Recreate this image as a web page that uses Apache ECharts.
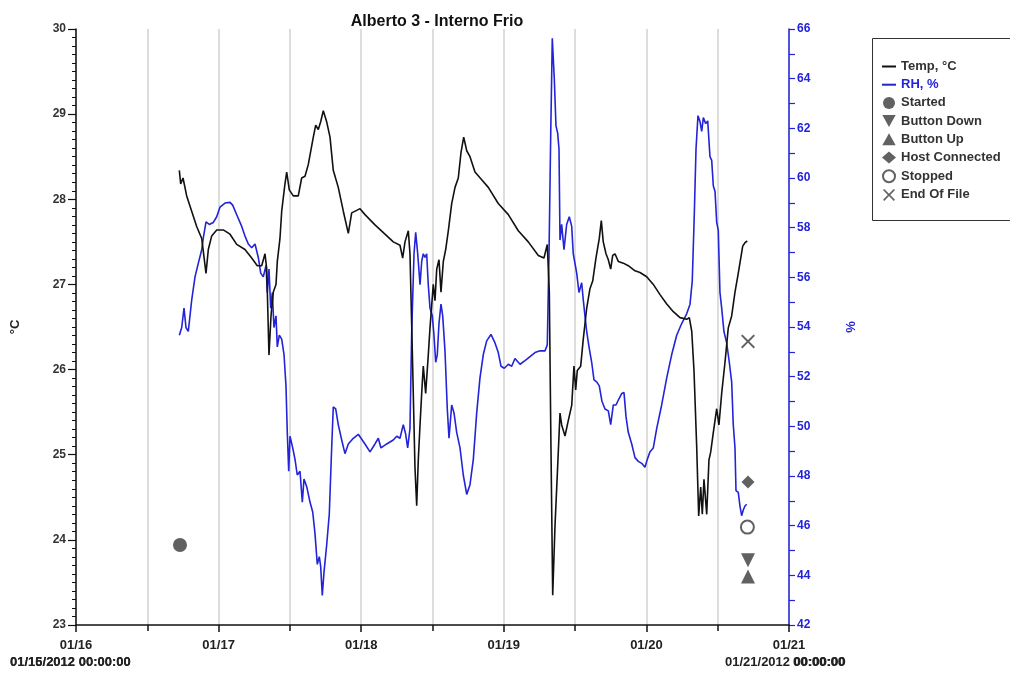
<!DOCTYPE html>
<html>
<head>
<meta charset="utf-8">
<title>Alberto 3 - Interno Frio</title>
<script src="https://cdn.jsdelivr.net/npm/echarts@6/dist/echarts.min.js"></script>
<style>
  html, body { margin: 0; padding: 0; background: #fff; }
  #chart { width: 1010px; height: 675px; }
</style>
</head>
<body>
<div id="chart"></div>
<script>
// Logger readings, hours counted from 01/16/2012 00:00
const tempHours = [17.39, 17.62, 18.01, 18.63, 19.47, 20.31, 21.16, 21.88, 22.27, 22.84, 23.68, 24.79, 25.92, 27.05, 28.44, 29.57, 30.51, 31.25, 31.81, 32.10, 32.48, 32.82, 33.21, 33.66, 33.88, 34.33, 34.62, 35.17, 35.46, 35.90, 36.57, 37.41, 37.98, 38.54, 39.10, 39.94, 40.34, 40.78, 41.18, 41.62, 42.19, 42.75, 43.30, 44.14, 44.99, 45.83, 46.40, 47.24, 47.80, 48.64, 50.32, 52.00, 53.40, 54.53, 54.98, 55.37, 55.93, 56.21, 56.60, 57.05, 57.34, 57.61, 57.90, 58.18, 58.45, 58.85, 59.29, 59.58, 60.13, 60.42, 60.71, 61.09, 61.43, 61.82, 62.22, 62.66, 63.23, 63.79, 64.34, 64.80, 65.25, 65.76, 66.31, 67.15, 68.28, 69.39, 71.07, 72.76, 74.44, 76.12, 77.81, 78.76, 79.32, 79.66, 79.94, 80.23, 80.62, 81.00, 81.46, 81.74, 82.30, 82.85, 83.43, 83.81, 84.10, 84.37, 84.94, 85.38, 85.95, 86.50, 86.96, 87.51, 88.07, 88.41, 88.74, 89.20, 89.59, 89.99, 90.33, 90.71, 91.27, 92.11, 92.95, 94.08, 94.92, 96.05, 97.16, 98.29, 99.42, 100.53, 101.66, 102.78, 103.22, 103.63, 104.01, 104.47, 104.80, 105.14, 105.41, 105.69, 106.15, 106.53, 106.82, 107.26, 107.83, 108.21, 108.67, 109.22, 109.78, 110.35, 110.91, 111.46, 112.21, 112.59, 112.98];
const tempValues = [28.34, 28.18, 28.25, 28.04, 27.86, 27.68, 27.54, 27.13, 27.41, 27.57, 27.64, 27.64, 27.59, 27.47, 27.41, 27.31, 27.22, 27.22, 27.36, 27.18, 26.17, 26.63, 26.91, 27.00, 27.27, 27.54, 27.86, 28.18, 28.32, 28.11, 28.04, 28.04, 28.25, 28.27, 28.41, 28.73, 28.87, 28.82, 28.91, 29.04, 28.91, 28.73, 28.34, 28.14, 27.86, 27.60, 27.84, 27.87, 27.89, 27.82, 27.70, 27.59, 27.50, 27.46, 27.31, 27.50, 27.63, 27.36, 26.22, 24.85, 24.40, 24.94, 25.35, 25.72, 26.04, 25.72, 26.17, 26.49, 27.00, 26.81, 27.18, 27.29, 26.91, 27.27, 27.41, 27.63, 27.95, 28.14, 28.25, 28.55, 28.73, 28.57, 28.50, 28.32, 28.23, 28.14, 27.95, 27.82, 27.63, 27.50, 27.34, 27.31, 27.47, 26.91, 25.08, 23.35, 24.17, 24.76, 25.49, 25.35, 25.22, 25.40, 25.58, 26.04, 25.76, 25.99, 26.04, 26.36, 26.72, 26.95, 27.04, 27.31, 27.54, 27.75, 27.50, 27.36, 27.29, 27.18, 27.34, 27.36, 27.27, 27.25, 27.22, 27.16, 27.14, 27.09, 27.00, 26.88, 26.77, 26.68, 26.61, 26.59, 26.61, 26.45, 25.99, 25.08, 24.28, 24.62, 24.30, 24.71, 24.30, 24.94, 25.03, 25.26, 25.54, 25.35, 25.72, 26.08, 26.49, 26.63, 26.91, 27.13, 27.45, 27.49, 27.51];

const rhHours = [17.39, 17.79, 18.18, 18.51, 18.90, 19.47, 20.03, 20.58, 21.16, 21.42, 21.88, 22.43, 23.11, 23.68, 24.24, 25.08, 25.92, 26.37, 27.05, 27.89, 28.44, 29.00, 29.57, 30.13, 30.68, 31.09, 31.52, 31.98, 32.20, 32.48, 32.77, 33.04, 33.32, 33.66, 33.88, 34.22, 34.62, 35.01, 35.34, 35.56, 35.80, 36.02, 36.47, 36.86, 37.24, 37.70, 38.09, 38.37, 38.83, 39.38, 39.84, 40.22, 40.61, 40.95, 41.18, 41.45, 41.74, 42.19, 42.63, 43.03, 43.30, 43.71, 44.14, 44.72, 45.27, 45.83, 46.67, 47.51, 47.80, 48.64, 49.48, 50.32, 50.88, 51.33, 52.29, 53.40, 53.97, 54.53, 55.08, 55.49, 55.82, 56.21, 56.50, 56.89, 57.17, 57.51, 57.90, 58.18, 58.45, 58.74, 59.02, 59.29, 59.58, 59.97, 60.25, 60.54, 60.81, 61.09, 61.43, 61.72, 62.10, 62.49, 62.78, 63.23, 63.62, 64.07, 64.63, 65.18, 65.76, 66.31, 66.87, 67.44, 67.99, 68.55, 69.12, 69.84, 70.52, 71.07, 71.53, 72.08, 72.76, 73.33, 73.88, 74.73, 75.57, 76.41, 77.25, 78.09, 78.93, 79.32, 79.61, 79.89, 80.16, 80.50, 80.78, 81.07, 81.29, 81.46, 81.74, 82.13, 82.58, 83.02, 83.43, 83.69, 84.27, 84.65, 85.11, 85.38, 85.66, 85.95, 86.34, 86.79, 87.18, 87.63, 88.07, 88.52, 89.03, 89.59, 89.99, 90.43, 90.88, 91.34, 91.84, 92.23, 92.57, 92.95, 93.53, 94.08, 94.64, 95.21, 95.76, 96.15, 96.61, 97.16, 97.73, 98.57, 99.42, 100.26, 101.10, 101.94, 102.78, 103.34, 103.72, 104.06, 104.35, 104.68, 105.02, 105.31, 105.58, 105.98, 106.32, 106.70, 106.99, 107.26, 107.55, 107.83, 108.10, 108.38, 108.67, 109.05, 109.51, 109.95, 110.35, 110.62, 110.91, 111.08, 111.46, 111.75, 112.03, 112.30, 112.59, 112.88];
const rhValues = [53.67, 53.98, 54.76, 53.98, 53.82, 55.08, 56.02, 56.56, 57.11, 57.58, 58.23, 58.13, 58.21, 58.44, 58.83, 58.99, 59.02, 58.91, 58.52, 58.05, 57.66, 57.34, 57.19, 57.34, 56.80, 56.17, 56.02, 56.48, 55.39, 56.33, 54.76, 55.39, 53.98, 54.45, 53.20, 53.67, 53.51, 52.89, 51.63, 49.76, 48.19, 49.60, 49.13, 48.67, 48.04, 48.19, 46.95, 47.88, 47.57, 46.95, 46.55, 45.69, 44.44, 44.75, 44.36, 43.19, 44.13, 45.22, 46.47, 49.13, 50.78, 50.70, 50.07, 49.45, 48.90, 49.29, 49.52, 49.68, 49.60, 49.29, 48.97, 49.29, 49.52, 49.13, 49.29, 49.45, 49.60, 49.52, 50.07, 49.68, 49.13, 49.91, 53.82, 56.95, 57.81, 56.95, 55.70, 56.64, 56.95, 56.80, 56.95, 55.70, 54.76, 54.45, 53.67, 52.58, 52.89, 54.14, 54.92, 54.45, 53.04, 50.70, 49.52, 50.86, 50.54, 49.76, 49.13, 48.04, 47.26, 47.65, 48.67, 50.54, 51.95, 52.89, 53.44, 53.70, 53.36, 52.97, 52.42, 52.34, 52.50, 52.42, 52.73, 52.50, 52.65, 52.81, 52.97, 53.04, 53.04, 53.28, 56.95, 61.64, 65.63, 63.99, 62.11, 61.80, 61.17, 57.50, 58.13, 57.11, 58.13, 58.44, 58.05, 56.95, 56.17, 55.39, 55.78, 55.08, 54.45, 53.82, 53.20, 52.58, 51.87, 51.79, 51.63, 51.01, 50.70, 50.62, 50.07, 50.86, 50.86, 51.09, 51.32, 51.36, 50.39, 49.76, 49.29, 48.74, 48.59, 48.51, 48.35, 48.67, 48.98, 49.13, 49.91, 50.86, 51.95, 52.89, 53.67, 54.14, 54.53, 54.92, 55.86, 58.52, 61.17, 62.51, 62.27, 61.88, 62.43, 62.19, 62.30, 60.86, 60.71, 59.69, 59.46, 58.21, 57.89, 55.39, 54.76, 53.82, 53.36, 52.58, 51.79, 50.07, 49.13, 47.41, 47.34, 46.79, 46.40, 46.63, 46.79, 46.86];

// Logger events (hour, plotted on the °C scale)
const eventNames  = ['Started', 'Button Down', 'Button Up', 'Host Connected', 'Stopped', 'End Of File'];
const eventHours  = [17.5, 113.1, 113.1, 113.1, 113.0, 113.1];
const eventValues = [23.94, 23.76, 23.57, 24.68, 24.15, 26.33];

const dayLabels = ['01/16', '01/17', '01/18', '01/19', '01/20', '01/21'];

const TEMP_COLOR = '#111111';
const RH_COLOR = '#2323d8';
const MARK_COLOR = '#3a3a3a';
const FONT = 'Liberation Sans, Arial, sans-serif';
const LINE_ICON = 'path://M0,0 L14,0 L14,2 L0,2 Z';

const zip = (xs, ys) => xs.map((x, i) => [x, ys[i]]);

const eventSymbols = {
  'Started':        { symbol: 'circle', size: 14 },
  'Button Down':    { symbol: 'path://M0,0 L10,0 L5,9 Z', size: 14 },
  'Button Up':      { symbol: 'path://M5,0 L10,9 L0,9 Z', size: 14 },
  'Host Connected': { symbol: 'diamond', size: 13 },
  'Stopped':        { symbol: 'emptyCircle', size: 13 },
  'End Of File':    { symbol: 'path://M1,0 L5,4 L9,0 L10,1 L6,5 L10,9 L9,10 L5,6 L1,10 L0,9 L4,5 L0,1 Z', size: 14 }
};

const eventSeries = eventNames.map((name, i) => ({
  name: name,
  type: 'scatter',
  yAxisIndex: 0,
  symbol: eventSymbols[name].symbol,
  symbolSize: eventSymbols[name].size,
  itemStyle: name === 'Stopped'
    ? { color: MARK_COLOR, borderColor: MARK_COLOR, borderWidth: 1.3 }
    : { color: MARK_COLOR },
  data: [[eventHours[i], eventValues[i]]],
  z: 5
}));

const chart = echarts.init(document.getElementById('chart'), null, { renderer: 'canvas' });

const legendText = { fontFamily: FONT, fontSize: 13, fontWeight: 'bold', color: '#333' };

chart.setOption({
  animation: false,
  backgroundColor: '#ffffff',
  title: {
    text: 'Alberto 3 - Interno Frio',
    left: 432, top: 9, textAlign: 'center',
    textStyle: { fontFamily: FONT, fontSize: 16, fontWeight: 'bold', color: '#111' }
  },
  grid: { left: 76, right: 221, top: 29, bottom: 50, containLabel: false },
  legend: {
    orient: 'vertical',
    left: 882, top: 60,
    padding: 0,
    itemWidth: 14, itemHeight: 12, itemGap: 5.2,
    textStyle: legendText,
    data: [
      { name: 'Temp, °C', icon: LINE_ICON, itemStyle: { color: TEMP_COLOR } },
      { name: 'RH, %', icon: LINE_ICON, itemStyle: { color: RH_COLOR }, textStyle: { color: RH_COLOR } },
      ...eventNames.map(n => ({ name: n }))
    ]
  },
  graphic: [
    { type: 'rect', shape: { x: 872.5, y: 38.5, width: 150, height: 182 },
      style: { fill: 'none', stroke: '#333', lineWidth: 1 }, z: -1 },
    { type: 'text', left: 10, top: 656,
      style: { text: '01/16/2012 00:00:00', font: 'bold 13px ' + FONT, fill: '#222' } },
    { type: 'text', left: 10, top: 656,
      style: { text: '01/15/2012 00:00:00', font: 'bold 13px ' + FONT, fill: '#222' } },
    { type: 'text', left: 725, top: 656,
      style: { text: '01/21/2012 00:00:00', font: 'bold 13px ' + FONT, fill: '#222' } },
    { type: 'text', left: 793, top: 656,
      style: { text: '00:00:00', font: 'bold 13px ' + FONT, fill: '#222' } }
  ],
  xAxis: {
    type: 'value',
    min: 0, max: 120, interval: 24,
    axisLine: { show: true, onZero: false, lineStyle: { color: '#111', width: 1.5 } },
    axisTick: { show: true, length: 7, lineStyle: { color: '#111', width: 1.5 } },
    minorTick: { show: true, splitNumber: 2, length: 6, lineStyle: { color: '#111', width: 1.5 } },
    splitLine: { show: true, lineStyle: { color: '#d2d2d2', width: 1.5 } },
    minorSplitLine: { show: true, lineStyle: { color: '#d2d2d2', width: 1.5 } },
    axisLabel: {
      margin: 14,
      fontFamily: FONT, fontSize: 13, fontWeight: 'bold', color: '#222',
      formatter: v => dayLabels[Math.round(v / 24)]
    }
  },
  yAxis: [
    {
      type: 'value', position: 'left',
      min: 23, max: 30, interval: 1,
      name: '°C', nameLocation: 'middle', nameRotate: 90, nameGap: 54,
      nameTextStyle: { fontFamily: FONT, fontSize: 13, fontWeight: 'bold', color: '#222' },
      axisLine: { show: true, lineStyle: { color: '#111', width: 1.5 } },
      axisTick: { show: true, length: 8, lineStyle: { color: '#111', width: 1.2 } },
      minorTick: { show: true, splitNumber: 10, length: 4, lineStyle: { color: '#111', width: 1 } },
      splitLine: { show: false },
      axisLabel: { margin: 10, fontFamily: FONT, fontSize: 12, fontWeight: 'bold', color: '#333' }
    },
    {
      type: 'value', position: 'right',
      min: 42, max: 66, interval: 2,
      name: '%', nameLocation: 'middle', nameRotate: 90, nameGap: 56,
      nameTextStyle: { fontFamily: FONT, fontSize: 13, fontWeight: 'bold', color: RH_COLOR },
      axisLine: { show: true, lineStyle: { color: RH_COLOR, width: 1.5 } },
      axisTick: { show: true, length: 6, lineStyle: { color: RH_COLOR, width: 1.2 } },
      minorTick: { show: true, splitNumber: 2, length: 6, lineStyle: { color: RH_COLOR, width: 1.2 } },
      splitLine: { show: false },
      axisLabel: { margin: 8, fontFamily: FONT, fontSize: 12, fontWeight: 'bold', color: RH_COLOR }
    }
  ],
  series: [
    {
      name: 'Temp, °C', type: 'line', yAxisIndex: 0,
      symbol: 'none', showSymbol: false,
      lineStyle: { color: TEMP_COLOR, width: 1.6 },
      itemStyle: { color: TEMP_COLOR },
      data: zip(tempHours, tempValues), z: 3
    },
    {
      name: 'RH, %', type: 'line', yAxisIndex: 1,
      symbol: 'none', showSymbol: false,
      lineStyle: { color: RH_COLOR, width: 1.6 },
      itemStyle: { color: RH_COLOR },
      data: zip(rhHours, rhValues), z: 2
    },
    ...eventSeries
  ]
});
</script>
</body>
</html>
